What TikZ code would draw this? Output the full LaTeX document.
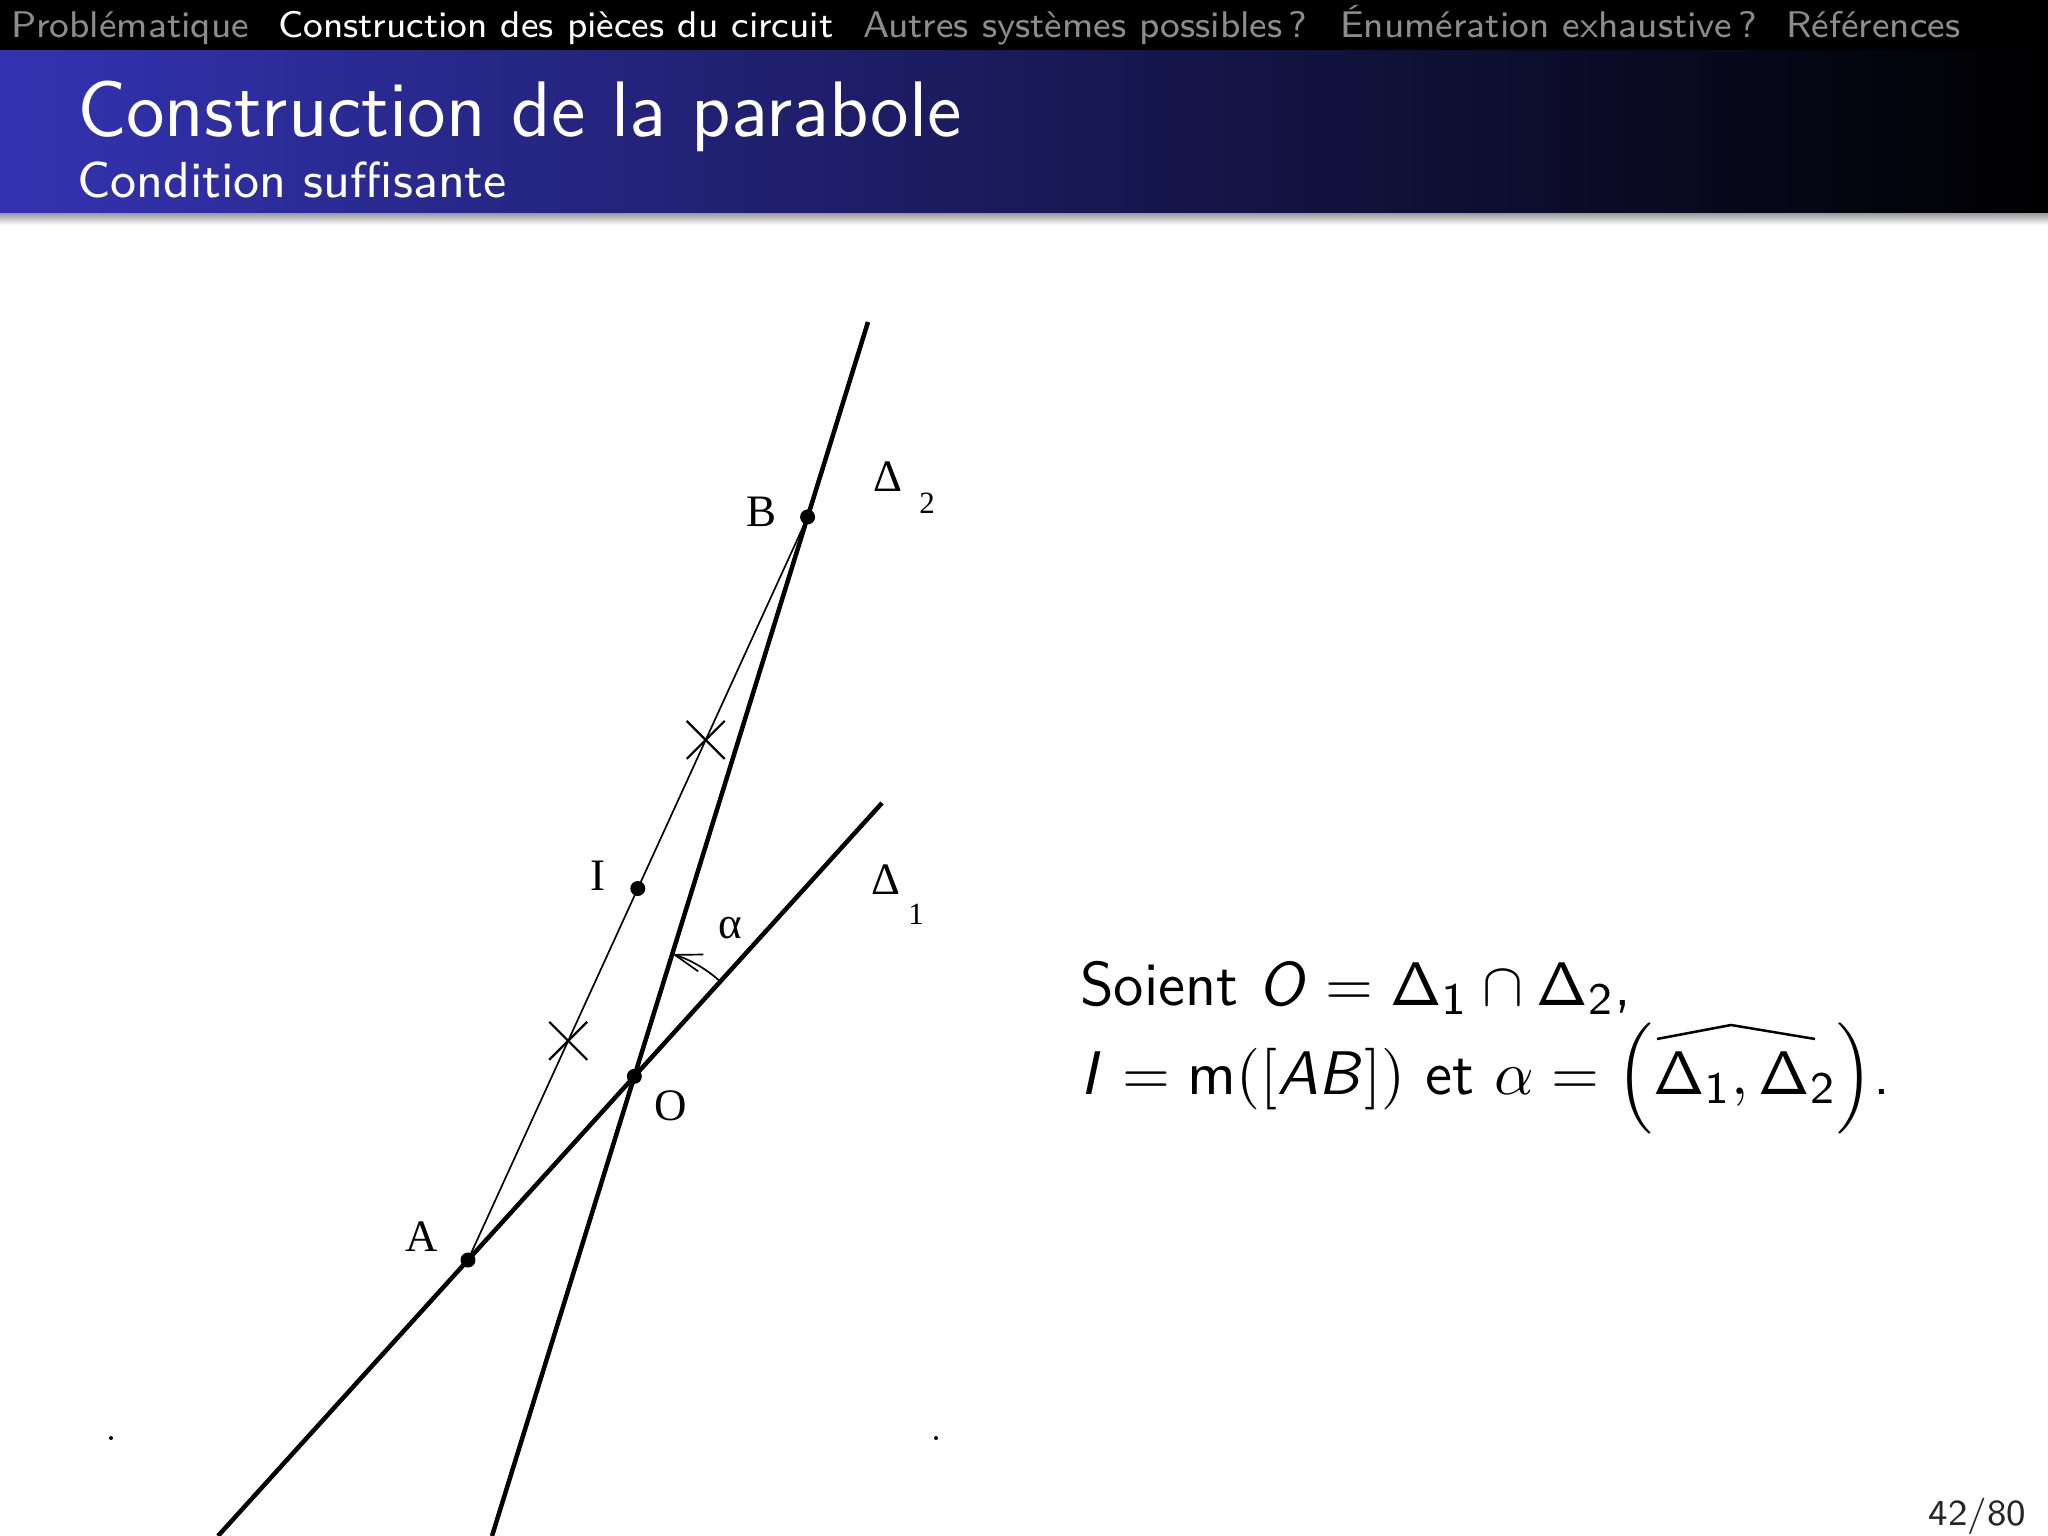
\documentclass[tikz,border=0pt]{standalone}
\usepackage[no-math]{fontspec}
\usepackage{amsmath}
\usetikzlibrary{calc,arrows.meta}
\newfontfamily\figfont{Liberation Serif}
\DeclareMathAlphabet{\mathsfit}{OT1}{cmss}{m}{sl}
\definecolor{bleutitre}{RGB}{51,51,178}
\definecolor{grisnav}{RGB}{140,140,140}
\tikzset{
    droite/.style={line width=0.8pt},
    fin/.style={line width=0.3pt},
    croix/.style={line width=0.4pt},
    etiq/.style={font=\figfont\fontsize{8}{9}\selectfont},
    indice/.style={font=\figfont\fontsize{5.5}{6}\selectfont},
    nav/.style={anchor=base west,inner sep=0pt,font=\sffamily\fontsize{6.6}{8}\selectfont},
    texte/.style={anchor=base west,inner sep=0pt,font=\sffamily\fontsize{11}{13}\selectfont}
}

\begin{document}
\begin{tikzpicture}[x=0.0625mm,y=-0.0625mm]
    \useasboundingbox (0,0) rectangle (2048,1536);
    \fill[white] (0,0) rectangle (2048,1536);

    % Dessine le bandeau de navigation
    \fill[black] (0,0) rectangle (2048,50);
    \node[nav,text=grisnav] (nav1) at (10,38) {Problématique};
    \node[nav,text=white] (nav2) at (277,38) {Construction des pièces du circuit};
    \node[nav,text=grisnav] (nav3) at (862,38) {Autres systèmes possibles\,?};
    \node[nav,text=grisnav] (nav4) at (1339,38) {Énumération exhaustive\,?};
    \node[nav,text=grisnav] (nav5) at (1785,38) {Références};

    % Dessine le titre
    \shade[left color=bleutitre,right color=black] (0,50) rectangle (2048,213);
    \shade[top color=black!40,bottom color=white] (0,213) rectangle (2048,225);
    \node[anchor=base west,inner sep=0pt,text=white,font=\sffamily\fontsize{14}{17}\selectfont] (titre) at (76,137) {Construction de la parabole};
    \node[anchor=base west,inner sep=0pt,text=white,font=\sffamily\fontsize{9}{11}\selectfont] (soustitre) at (76,198) {Condition suffisante};

    % Dessine les droites
    \coordinate (d1h) at (882,803);
    \coordinate (d1b) at (218,1536);
    \coordinate (d2h) at (868,322);
    \coordinate (d2b) at (492,1536);
    \coordinate (O) at (intersection of d1h--d1b and d2h--d2b);
    \coordinate (A) at ($(d1h)!0.6235!(d1b)$);
    \coordinate (B) at ($(d2h)!0.1606!(d2b)$);
    \coordinate (I) at ($(A)!0.5!(B)$);
    \draw[droite] (d1h) -- (d1b);
    \draw[droite] (d2h) -- (d2b);

    % Dessine le segment [AB] et ses marques
    \draw[fin] (A) -- (B);
    \coordinate (m1) at ($(A)!0.295!(B)$);
    \coordinate (m2) at ($(A)!0.70!(B)$);
    \draw[croix] (m1) ++(-19,-19) -- ++(38,38) (m1) ++(-19,19) -- ++(38,-38);
    \draw[croix] (m2) ++(-19,-19) -- ++(38,38) (m2) ++(-19,19) -- ++(38,-38);
    \fill (A) circle[radius=7.5];
    \fill (B) circle[radius=7.5];
    \fill (I) circle[radius=7.5];
    \fill (O) circle[radius=7.5];

    % Angle alpha
    \draw[fin,-{Straight Barb[length=1.7mm,width=1.1mm]}] (O) ++(-47.8:128) arc[start angle=-47.8,end angle=-72.8,radius=128];

    % Etiquettes
    \node[etiq] (lA) at (422,1237) {A};
    \node[etiq] (lB) at (761,512) {B};
    \node[etiq] (lI) at (598,876) {I};
    \node[etiq] (lO) at (671,1106) {O};
    \node[etiq] (lalpha) at (730,928) {α};
    \node[etiq] (lD1) at (886,880) {Δ};
    \node[indice] (lD1i) at (916,914) {1};
    \node[etiq] (lD2) at (888,477) {Δ};
    \node[indice] (lD2i) at (927,503) {2};
    \fill (111,1438) circle[radius=2];
    \fill (936,1438) circle[radius=2];

    % Texte
    \node[texte] (ligne1) at (1079,1005) {Soient $\mathsfit{O}=\mathsf{\Delta_1}\cap\mathsf{\Delta_2}$,};
    \node[texte] (ligne2) at (1079,1094) {$\mathsfit{I}=\mathsf{m}([\mathsfit{AB}])$ et $\alpha=\left(\vphantom{\widehat{\mathsf{\Delta_1}}}\mathsf{\Delta_1},\mathsf{\Delta_2}\right)$.};
    % chapeau de l'angle
    \draw[line width=0.45pt] (1657,1039) -- (1731,1025) -- (1815,1039);

    % Numero de page
    \node[anchor=base east,inner sep=0pt,text=black!85,font=\sffamily\fontsize{6.5}{8}\selectfont] (page) at (2027,1525) {42/80};
\end{tikzpicture}
\end{document}
